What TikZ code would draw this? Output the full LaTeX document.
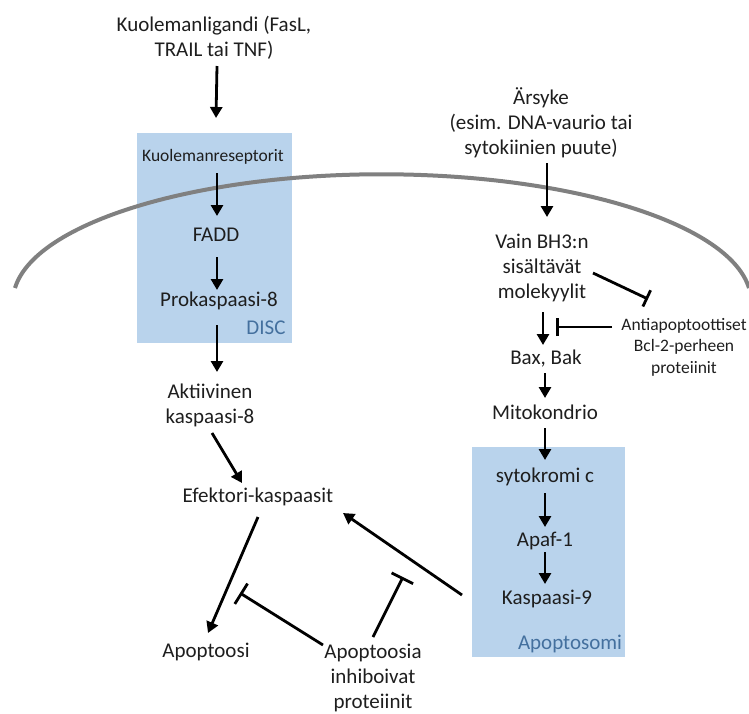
\documentclass[tikz,border=0pt]{standalone}
\usepackage{fontspec}
\setmainfont{Carlito}
\usetikzlibrary{arrows.meta}
\definecolor{boxblue}{HTML}{B9D3EC}
\definecolor{lblblue}{HTML}{44709E}
\definecolor{txt}{HTML}{1E1E1E}
\definecolor{memb}{HTML}{808080}
\tikzset{
  lbl/.style={font=\fontsize{21}{25}\selectfont, text=txt, align=center, inner sep=0pt},
  one/.style={font=\fontsize{21}{25}\selectfont, text=txt, inner sep=0pt, text height=14pt, text depth=5pt},
  smallone/.style={font=\fontsize{17.5}{21.5}\selectfont, text=txt, inner sep=0pt, text height=12pt, text depth=4pt},
  small/.style={font=\fontsize{17.5}{21.5}\selectfont, text=txt, align=center, inner sep=0pt},
  boxlbl/.style={font=\fontsize{21}{25}\selectfont, text=lblblue, inner sep=0pt, text height=14pt, text depth=5pt},
  regionbox/.style={fill=boxblue, draw=none},
  arr/.style={line width=2.8pt, draw=black, -{Triangle[length=11pt,width=12pt]}},
  inh/.style={line width=2.8pt, draw=black, -{Bar[width=24pt]}},
  inhs/.style={line width=2.8pt, draw=black, -{Bar[width=18pt]}},
  membrane/.style={draw=memb, line width=4pt},
}
\begin{document}
\begin{tikzpicture}[x=1pt,y=-1pt]
\useasboundingbox (0,0) rectangle (749,713);
% shaded complexes
\fill[regionbox] (137,133) rectangle (292,343);
\fill[regionbox] (472,447) rectangle (625,657);
% cell membrane
\draw[membrane] (15,288) arc[start angle=186, end angle=354, x radius=369, y radius=127];
% nodes
\node[lbl] (lig) at (214,37.5) {Kuolemanligandi (FasL,\\TRAIL tai TNF)};
\node[smallone] (rec) at (213,157) {Kuolemanreseptorit};
\node[one] (fadd) at (216,237) {FADD};
\node[one] (pro8) at (219,302) {Prokaspaasi-8};
\node[boxlbl] (discl) at (266,330) {DISC};
\node[lbl] (akt) at (210,405) {Aktiivinen\\kaspaasi-8};
\node[one] (efe) at (258,498) {Efektori-kaspaasit};
\node[one] (apo) at (206,653) {Apoptoosi};
\node[lbl] (iap) at (373,678) {Apoptoosia\\inhiboivat\\proteiinit};
\node[lbl] (ars) at (541,123) {Ärsyke\\(esim. DNA-vaurio tai\\sytokiinien puute)};
\node[lbl] (bh3) at (542,268) {Vain BH3:n\\sisältävät\\molekyylit};
\node[small] (anti) at (684,347) {Antiapoptoottiset\\Bcl-2-perheen\\proteiinit};
\node[one] (bax) at (546,360) {Bax, Bak};
\node[one] (mito) at (545,415) {Mitokondrio};
\node[one] (cyt) at (545,478) {sytokromi c};
\node[one] (apaf) at (545,542) {Apaf-1};
\node[one] (k9) at (547,600) {Kaspaasi-9};
\node[boxlbl] (apsm) at (570,645) {Apoptosomi};
% inhibition targets
\coordinate (t1) at (240,593);
\coordinate (t2) at (403,577);
\coordinate (t3) at (556,327);
% connectors
\draw[arr] ([shift={(3,28.5)}]lig.center) -- ([shift={(3,-39)}]rec.center);
\draw[arr] ([shift={(4,16)}]rec.center) -- ([shift={(1,-21)}]fadd.center);
\draw[arr] ([shift={(1,20)}]fadd.center) -- ([shift={(-2,-12)}]pro8.center);
\draw[arr] ([shift={(-2,23)}]pro8.center) -- ([shift={(7,-33)}]akt.center);
\draw[arr] ([shift={(2,28)}]akt.center) -- ([shift={(-16,-15)}]efe.center);
\draw[arr] ([shift={(0,19)}]efe.center) -- ([shift={(2,-20)}]apo.center);
\draw[arr] ([shift={(-85,-5)}]k9.center) -- ([shift={(85,15)}]efe.center);
\draw[inh] ([shift={(-50,-33)}]iap.center) -- (t1);
\draw[inh] ([shift={(0,-41)}]iap.center) -- (t2);
\draw[arr] ([shift={(6,40)}]ars.center) -- ([shift={(5,-51)}]bh3.center);
\draw[inhs] ([shift={(51,5)}]bh3.center) -- ([shift={(-36,-48)}]anti.center);
\draw[arr] ([shift={(1,44)}]bh3.center) -- ([shift={(-3,-15)}]bax.center);
\draw[inhs] ([shift={(-72,-20)}]anti.center) -- (t3);
\draw[arr] ([shift={(-1,13)}]bax.center) -- ([shift={(0,-17)}]mito.center);
\draw[arr] ([shift={(0,13)}]mito.center) -- ([shift={(0,-18)}]cyt.center);
\draw[arr] ([shift={(0,15)}]cyt.center) -- ([shift={(0,-15)}]apaf.center);
\draw[arr] ([shift={(0,10)}]apaf.center) -- ([shift={(-2,-16)}]k9.center);
\end{tikzpicture}
\end{document}
